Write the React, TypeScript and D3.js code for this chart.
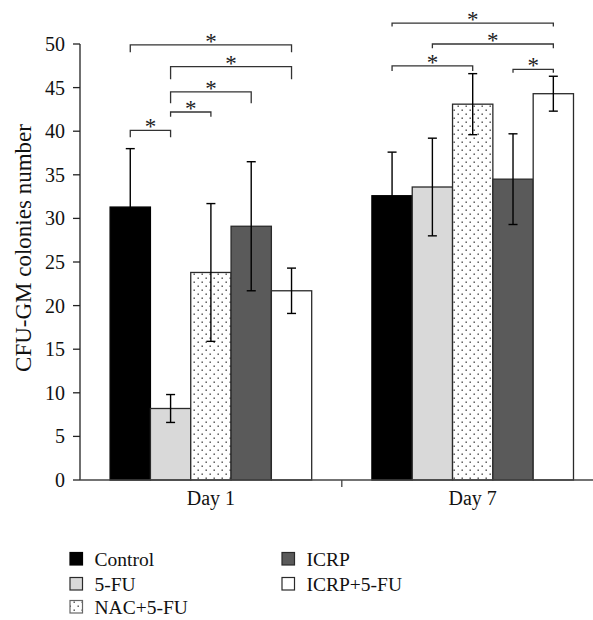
import React from "react";
import * as d3 from "d3";

const days = ["Day 1", "Day 7"];
const groups = ["Control", "5-FU", "NAC+5-FU", "ICRP", "ICRP+5-FU"];
const day1Means = [31.3, 8.2, 23.8, 29.1, 21.7];
const day1Errors = [6.7, 1.6, 7.9, 7.4, 2.6];
const day7Means = [32.6, 33.6, 43.1, 34.5, 44.3];
const day7Errors = [5.0, 5.6, 3.5, 5.2, 2.0];
const yTicks = [0, 5, 10, 15, 20, 25, 30, 35, 40, 45, 50];
// significance brackets: day index, from group, to group, bracket level, leg foot level
const sigDay = [0, 0, 0, 0, 0, 1, 1, 1, 1];
const sigFrom = [0, 1, 1, 1, 0, 0, 1, 0, 3];
const sigTo = [4, 4, 3, 2, 1, 4, 4, 2, 4];
const sigLevel = [49.9, 47.4, 44.5, 42.2, 40.1, 52.4, 50.0, 47.5, 47.1];
const sigFoot = [49.05, 45.95, 43.2, 41.66, 39.3, 52.0, 49.5, 46.9, 46.7];

const W = 593;
const H = 620;
const FONT = "'Liberation Serif', 'Times New Roman', serif";

const fills = ["#000000", "#d9d9d9", "url(#dots)", "#5a5a5a", "#ffffff"];
const strokes = ["#000000", "#2a2a2a", "#2a2a2a", "#2a2a2a", "#2a2a2a"];

export default function App() {
  const means = [day1Means, day7Means];
  const errs = [day1Errors, day7Errors];
  const y = d3.scaleLinear().domain([0, 50]).range([480, 44]);
  const x0 = d3
    .scaleBand<string>()
    .domain(days)
    .range([80, 603.6])
    .paddingInner(0.23)
    .paddingOuter(0.115);
  const x1 = d3
    .scaleBand<string>()
    .domain(groups)
    .range([0, x0.bandwidth()])
    .padding(0);
  const bw = x1.bandwidth();
  const cx = (di: number, gi: number) =>
    (x0(days[di]) as number) + (x1(groups[gi]) as number) + bw / 2;

  const legendCols = [
    { x: 70, items: [0, 1, 2] },
    { x: 282, items: [3, 4] },
  ];
  const legendRowY = [559, 584, 607];

  return (
    <svg
      width={W}
      height={H}
      style={{ position: "absolute", left: 0, top: 0, background: "#fff" }}
      fontFamily={FONT}
    >
      <defs>
        <pattern id="dots" width="8" height="8" patternUnits="userSpaceOnUse">
          <rect width="8" height="8" fill="#fff" />
          <rect x="1.5" y="1.5" width="1.4" height="1.4" fill="#444" />
          <rect x="5.5" y="5.5" width="1.4" height="1.4" fill="#444" />
        </pattern>
      </defs>

      {/* bars */}
      {days.map((d, di) =>
        groups.map((g, gi) => {
          const bx = (x0(d) as number) + (x1(g) as number);
          const v = means[di][gi];
          return (
            <rect
              key={`${d}-${g}`}
              x={bx}
              y={y(v)}
              width={bw}
              height={y(0) - y(v)}
              fill={fills[gi]}
              stroke={strokes[gi]}
              strokeWidth={1.3}
            />
          );
        })
      )}

      {/* error bars */}
      {days.map((d, di) =>
        groups.map((g, gi) => {
          const c = cx(di, gi);
          const v = means[di][gi];
          const e = errs[di][gi];
          return (
            <g key={`e-${d}-${g}`} stroke="#000" strokeWidth={1.4}>
              <line x1={c} x2={c} y1={y(v + e)} y2={y(v - e)} />
              <line x1={c - 4.5} x2={c + 4.5} y1={y(v + e)} y2={y(v + e)} />
              <line x1={c - 4.5} x2={c + 4.5} y1={y(v - e)} y2={y(v - e)} />
            </g>
          );
        })
      )}

      {/* y axis */}
      <line x1={80} x2={80} y1={y(50)} y2={y(0)} stroke="#222" strokeWidth={1.3} />
      {yTicks.map((t) => (
        <g key={t}>
          <line x1={73} x2={80} y1={y(t)} y2={y(t)} stroke="#222" strokeWidth={1.3} />
          <text x={65} y={y(t)} dy="0.35em" textAnchor="end" fontSize={20} fill="#111">
            {t}
          </text>
        </g>
      ))}
      <text
        transform={`translate(23,${248}) rotate(-90)`}
        textAnchor="middle"
        dy="0.35em"
        fontSize={23}
        fill="#111"
      >
        CFU-GM colonies number
      </text>

      {/* x axis */}
      <line x1={80} x2={W} y1={y(0)} y2={y(0)} stroke="#444" strokeWidth={1.6} />
      {days.map((d, di) => {
        const edge = (x0(d) as number) + x0.bandwidth() + (x0.step() * x0.paddingInner()) / 2;
        return (
          <g key={`x-${d}`}>
            {di < days.length - 1 && (
              <line x1={edge} x2={edge} y1={y(0)} y2={y(0) + 7} stroke="#444" strokeWidth={1.3} />
            )}
            <text
              x={(x0(d) as number) + x0.bandwidth() / 2}
              y={505}
              textAnchor="middle"
              fontSize={20}
              fill="#111"
            >
              {d}
            </text>
          </g>
        );
      })}

      {/* significance brackets */}
      {sigDay.map((di, i) => {
        const a = cx(di, sigFrom[i]);
        const b = cx(di, sigTo[i]);
        const ly = y(sigLevel[i]);
        const fy = y(sigFoot[i]);
        return (
          <g key={`s-${i}`}>
            <path
              d={`M${a},${fy}L${a},${ly}L${b},${ly}L${b},${fy}`}
              fill="none"
              stroke="#333"
              strokeWidth={1.3}
            />
            <text x={(a + b) / 2} y={ly + 4} textAnchor="middle" fontSize={23} fill="#222">
              *
            </text>
          </g>
        );
      })}

      {/* legend */}
      {legendCols.map((col) =>
        col.items.map((gi, ri) => (
          <g key={`l-${gi}`}>
            <rect
              x={col.x}
              y={legendRowY[ri] - 6.5}
              width={12.5}
              height={12.5}
              fill={fills[gi]}
              stroke={gi === 2 ? "#666" : strokes[gi]}
              strokeWidth={1.2}
            />
            <text x={col.x + 24.5} y={legendRowY[ri]} dy="0.35em" fontSize={19.5} fill="#111">
              {groups[gi]}
            </text>
          </g>
        ))
      )}
    </svg>
  );
}
